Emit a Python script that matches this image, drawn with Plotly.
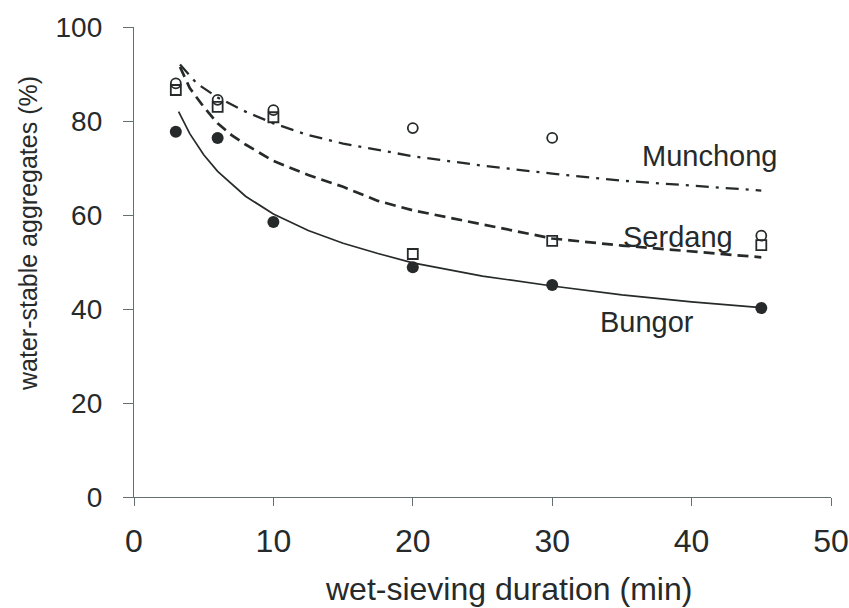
import plotly.graph_objects as go

# --- data ---
duration = [3, 6, 10, 20, 30, 45]
bungor_pts = [77.7, 76.4, 58.5, 48.9, 45.1, 40.2]
serdang_pts = [86.6, 83.0, 80.8, 51.7, 54.5, 53.6]
munchong_pts = [88.0, 84.5, 82.3, 78.5, 76.4, 55.6]

# fitted curves
bungor_fit_x = [3.2, 4, 5, 6, 8, 10, 12.5, 15, 17.5, 20, 25, 30, 35, 40, 45]
bungor_fit_y = [82, 77.3, 72.8, 69.3, 64, 60.2, 56.7, 54, 51.8, 49.8, 47, 44.9, 43, 41.5, 40.3]
serdang_fit_x = [3.3, 4, 5, 6, 7, 8, 10, 12.5, 15, 17.5, 20, 25, 30, 35, 40, 45]
serdang_fit_y = [91.5, 87, 83, 79.5, 77, 75, 71.5, 68.5, 66, 63, 61, 58, 55, 53.5, 52.3, 51]
munchong_fit_x = [3.3, 4.5, 6, 8, 10, 12.5, 15, 17.5, 20, 25, 30, 35, 40, 45]
munchong_fit_y = [92, 88, 85, 82, 79.5, 77, 75.2, 73.8, 72.5, 70.5, 68.8, 67.3, 66.2, 65.2]

x_ticks = [0, 10, 20, 30, 40, 50]
y_ticks = [0, 20, 40, 60, 80, 100]
series_labels = ["Munchong", "Serdang", "Bungor"]

INK = "#262a2a"
AXIS = "#62706f"
FONT = "Liberation Sans, Arial, sans-serif"

W, H = 849, 608
L, R, T, B = 134, 18, 27, 111
PW, PH = W - L - R, H - T - B


def page_to_paper(px, py):
    return (px - L) / PW, (H - py - B) / PH


fig = go.Figure()

fig.add_trace(go.Scatter(x=bungor_fit_x, y=bungor_fit_y, mode="lines",
                         line=dict(color=INK, width=1.7), showlegend=False))
fig.add_trace(go.Scatter(x=serdang_fit_x, y=serdang_fit_y, mode="lines",
                         line=dict(color=INK, width=2.7, dash="11px,6px"), showlegend=False))
fig.add_trace(go.Scatter(x=munchong_fit_x, y=munchong_fit_y, mode="lines",
                         line=dict(color=INK, width=2.3, dash="13px,7px,3px,7px"), showlegend=False))

fig.add_trace(go.Scatter(x=duration, y=serdang_pts, mode="markers",
                         marker=dict(symbol="square-open", size=10, color=INK, line=dict(width=1.8)),
                         showlegend=False))
fig.add_trace(go.Scatter(x=duration, y=munchong_pts, mode="markers",
                         marker=dict(symbol="circle-open", size=10, color=INK, line=dict(width=1.8)),
                         showlegend=False))
fig.add_trace(go.Scatter(x=duration, y=bungor_pts, mode="markers",
                         marker=dict(symbol="circle", size=12, color=INK),
                         showlegend=False))

label_pos = {"Munchong": (41.3, 72.6), "Serdang": (39.0, 55.3), "Bungor": (36.8, 37.2)}
for name in series_labels:
    lx, ly = label_pos[name]
    fig.add_annotation(x=lx, y=ly, xref="x", yref="y", text=name, showarrow=False,
                       font=dict(family=FONT, size=29, color=INK), xanchor="center", yanchor="middle")

# axis titles
tx, ty = page_to_paper(508, 589)
fig.add_annotation(x=tx, y=ty, xref="paper", yref="paper", text="wet-sieving duration (min)",
                   showarrow=False, xanchor="center", yanchor="middle",
                   font=dict(family=FONT, size=32, color=INK))
yx, yy = page_to_paper(28, 234)
fig.add_annotation(x=yx, y=yy, xref="paper", yref="paper", text="water-stable aggregates (%)",
                   textangle=-90, showarrow=False, xanchor="center", yanchor="middle",
                   font=dict(family=FONT, size=25, color=INK))

fig.update_xaxes(range=[0, 50], tickvals=x_ticks, ticks="outside", ticklen=8, tickwidth=1.3,
                 tickcolor=AXIS, showline=True, linecolor=AXIS, linewidth=1.3,
                 showgrid=False, zeroline=False, ticklabelstandoff=7, automargin=False,
                 tickfont=dict(family=FONT, size=32, color=INK))
fig.update_yaxes(range=[0, 100], tickvals=y_ticks, ticks="outside", ticklen=10, tickwidth=1.3,
                 tickcolor=AXIS, showline=True, linecolor=AXIS, linewidth=1.3,
                 showgrid=False, zeroline=False, ticklabelstandoff=15, automargin=False,
                 tickfont=dict(family=FONT, size=28, color=INK))

fig.update_layout(width=W, height=H,
                  margin=dict(l=L, r=R, t=T, b=B, autoexpand=False),
                  paper_bgcolor="white", plot_bgcolor="white", showlegend=False)

fig.write_html("out.html", config={"displayModeBar": False},
               post_script="document.body.style.margin='0';document.body.style.overflow='hidden';")
